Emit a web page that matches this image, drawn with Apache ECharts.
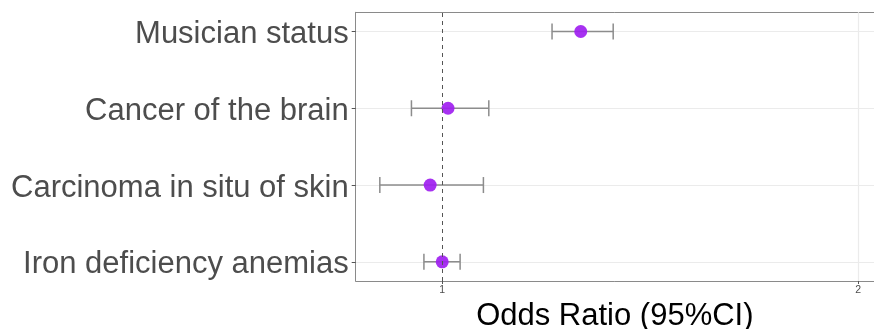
<!DOCTYPE html>
<html>
<head>
<meta charset="utf-8">
<script src="https://cdn.jsdelivr.net/npm/echarts@6/dist/echarts.min.js"></script>
<style>
html,body{margin:0;padding:0;background:#fff;}
#chart{width:874px;height:329px;}
</style>
</head>
<body>
<div id="chart"></div>
<script>
const categories = ['Musician status', 'Cancer of the brain', 'Carcinoma in situ of skin', 'Iron deficiency anemias'];
const oddsRatio = [1.333, 1.014, 0.971, 1.0];
const ciLow = [1.264, 0.926, 0.850, 0.956];
const ciHigh = [1.411, 1.112, 1.099, 1.043];
const xTicks = [1, 2];
const refLine = 1;

const n = categories.length;
const yPos = categories.map((c, i) => n - i);
const pointData = oddsRatio.map((v, i) => [v, yPos[i]]);
const barData = ciLow.map((l, i) => [l, ciHigh[i], yPos[i]]);
const FONT = "'Liberation Sans', Arial, Helvetica, sans-serif";

const chart = echarts.init(document.getElementById('chart'), null, {renderer: 'canvas'});
chart.setOption({
  animation: false,
  backgroundColor: '#fff',
  grid: {left: 355.7, right: 0, top: 12.3, bottom: 48, containLabel: false, outerBoundsMode: 'none'},
  xAxis: [{
    type: 'value', min: 0.792, max: 2.038,
    axisLine: {show: true, lineStyle: {color: '#8a8a8a', width: 1}},
    axisTick: {show: true, length: 3, customValues: xTicks, lineStyle: {color: '#555', width: 1}},
    axisLabel: {show: true, customValues: xTicks, margin: 4, fontSize: 10.5, color: '#4d4d4d', fontFamily: FONT,
      formatter: v => String(v)},
    splitLine: {show: false},
    name: 'Odds Ratio (95%CI)', nameLocation: 'middle', nameGap: 12,
    nameTextStyle: {fontSize: 31, color: '#000', fontFamily: FONT, verticalAlign: 'top'}
  }, {
    type: 'value', position: 'top', min: 0.792, max: 2.038,
    axisLine: {show: true, onZero: false, lineStyle: {color: '#8a8a8a', width: 1}},
    axisTick: {show: false}, axisLabel: {show: false}, splitLine: {show: false}
  }],
  yAxis: {
    type: 'value', min: 0.75, max: 4.25, splitNumber: 3,
    axisLine: {show: true, onZero: false, lineStyle: {color: '#8a8a8a', width: 1}},
    axisTick: {show: true, length: 4, customValues: yPos, lineStyle: {color: '#555', width: 1}},
    axisLabel: {show: true, customValues: yPos, margin: 7, fontSize: 31, color: '#4d4d4d', fontFamily: FONT,
      rich: {c: {fontSize: 31, color: '#4d4d4d', fontFamily: FONT, padding: [6, 0, 0, 0]}},
      formatter: v => { const i = n - Math.round(v); return (Math.abs(v - Math.round(v)) < 1e-6 && categories[i]) ? '{c|' + categories[i] + '}' : ''; }},
    splitLine: {show: true, lineStyle: {color: '#ebebeb', width: 1.2}}
  },
  series: [
    {
      type: 'custom',
      data: barData,
      encode: {x: [0, 1], y: 2},
      renderItem: function (params, api) {
        const y = api.value(2);
        const p1 = api.coord([api.value(0), y]);
        const p2 = api.coord([api.value(1), y]);
        const h = 8;
        const style = {stroke: '#8c8c8c', lineWidth: 1.5, fill: null};
        return {type: 'group', children: [
          {type: 'line', shape: {x1: p1[0], y1: p1[1], x2: p2[0], y2: p2[1]}, style: style},
          {type: 'line', shape: {x1: p1[0], y1: p1[1] - h, x2: p1[0], y2: p1[1] + h}, style: style},
          {type: 'line', shape: {x1: p2[0], y1: p2[1] - h, x2: p2[0], y2: p2[1] + h}, style: style}
        ]};
      },
      z: 3,
      markLine: {
        silent: true, symbol: 'none', label: {show: false}, animation: false,
        data: [
          {xAxis: xTicks[1], lineStyle: {color: '#ebebeb', width: 1.2, type: 'solid'}},
          {xAxis: refLine, lineStyle: {color: '#555', width: 1, type: [4, 4]}}
        ]
      }
    },
    {
      type: 'scatter',
      data: pointData,
      symbol: 'circle',
      symbolSize: 13,
      itemStyle: {color: '#A020F0', opacity: 0.92},
      z: 4
    }
  ]
});
</script>
</body>
</html>
